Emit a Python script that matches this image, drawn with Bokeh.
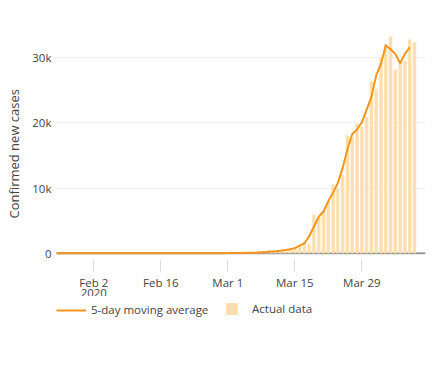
import pandas as pd
from bokeh.plotting import figure
from bokeh.models import (ColumnDataSource, FixedTicker, Span, Legend,
                          LegendItem, Range1d, Title, Label)
from bokeh.embed import file_html
from bokeh.resources import INLINE

# ---------------- data ----------------
start_date = "2020-01-22"

# daily confirmed new cases (bars), Jan 22 .. Apr 9
new_cases = [
    1, 0, 1, 0, 3, 0, 0, 0, 0, 1,
    1, 0, 3, 0, 0, 0, 0, 0, 0, 0, 1, 0, 1, 0, 0, 0, 0, 0, 0, 0, 2, 0, 0, 36, 0, 6, 1, 2, 8,
    6, 23, 20, 31, 68, 45, 140, 116, 65, 376, 322, 382, 516, 548, 772, 1133, 1789, 1362,
    5894, 5421, 6392, 7783, 10571, 9893, 12038, 18058, 17821, 19821, 19408, 20921, 26365,
    25200, 30081, 32133, 33264, 28222, 29595, 29556, 32829, 32385,
]

# 5-day moving average (line), Jan 22 .. Apr 8
avg_cases = [
    0, 0, 1, 1, 1, 1, 1, 0, 0, 0,
    1, 1, 1, 1, 1, 1, 0, 0, 0, 0, 0, 0, 0, 0, 0, 0, 0, 0, 0, 0, 0, 8, 8, 8, 9, 9, 9, 3, 4,
    30, 30, 38, 50, 60, 80, 100, 150, 200, 250, 300, 380, 480, 600, 780, 1150, 1500, 2600,
    4100, 5600, 6400, 8000, 9300, 10800, 13100, 16000, 18300, 19000, 20100, 22000, 24000,
    27300, 29100, 31900, 31300, 30600, 29200, 30600, 31600,
]

xtick_dates = ["2020-02-02", "2020-02-16", "2020-03-01", "2020-03-15", "2020-03-29"]
xtick_labels = ["Feb 2", "Feb 16", "Mar 1", "Mar 15", "Mar 29"]
year_label = "2020"
ytick_values = [0, 10000, 20000, 30000]
ytick_labels = ["0", "10k", "20k", "30k"]

line_label = "5-day moving average"
bar_label = "Actual data"
y_title = "Confirmed new cases"

# ---------------- styling ----------------
FONT = "Open Sans"
TEXT = "#444444"
LINE_COLOR = "#F7941E"
BAR_COLOR = "#FFDFB0"
DAY_MS = 86400000

dates = pd.date_range(start_date, periods=len(new_cases), freq="D")
avg_dates = dates[:len(avg_cases)]

bar_src = ColumnDataSource(dict(x=dates, top=new_cases))
line_src = ColumnDataSource(dict(x=avg_dates, y=avg_cases))


def ms(d):
    return int(pd.Timestamp(d).value // 10**6)


x_start = ms("2020-01-25 05:00")
x_end = ms("2020-04-11 07:12")

p = figure(width=440, height=360, x_axis_type="datetime",
           x_range=Range1d(x_start, x_end), y_range=Range1d(-12636, 35729),
           output_backend="svg", toolbar_location=None,
           min_border_left=54, min_border_right=15, min_border_top=20,
           min_border_bottom=25)
p.outline_line_color = None
p.background_fill_color = "white"
p.border_fill_color = "white"

zero = Span(location=0, dimension="width", line_color="#999999", line_width=2,
            level="underlay")
p.add_layout(zero)

bars = p.vbar(x="x", top="top", width=0.72 * DAY_MS, source=bar_src,
              fill_color=BAR_COLOR, line_color=None)
line = p.line(x="x", y="y", source=line_src, line_color=LINE_COLOR,
              line_width=2, line_join="round")

# x axis (drawn just below the zero line)
xa = p.xaxis[0]
xa.fixed_location = -967
xa.ticker = FixedTicker(ticks=[ms(d) for d in xtick_dates])
xa.major_label_overrides = {ms(d): lab for d, lab in zip(xtick_dates, xtick_labels)}
xa.axis_line_color = None
xa.major_tick_in = 0
xa.major_tick_out = 12
xa.major_tick_line_color = "#dddddd"
xa.minor_tick_line_color = None
xa.major_label_standoff = 3
xa.major_label_text_font = FONT
xa.major_label_text_font_size = "11.5px"
xa.major_label_text_color = TEXT
p.xgrid.grid_line_color = None

# year under the first date tick (mostly hidden by the legend, as in the original)
p.add_layout(Label(x=ms(xtick_dates[0]), y=47, x_units="data", y_units="screen",
                   text=year_label, text_align="center", text_baseline="top",
                   text_font=FONT, text_font_size="11.5px", text_color=TEXT))

# y axis
ya = p.yaxis[0]
ya.ticker = FixedTicker(ticks=ytick_values)
ya.major_label_overrides = {v: lab for v, lab in zip(ytick_values, ytick_labels)}
ya.axis_line_color = None
ya.major_tick_in = 0
ya.major_tick_out = 0
ya.minor_tick_line_color = None
ya.major_label_standoff = 5
ya.major_label_text_font = FONT
ya.major_label_text_font_size = "11.5px"
ya.major_label_text_color = TEXT
p.ygrid.grid_line_color = "#eeeeee"
p.ygrid.grid_line_width = 1

# y title
p.add_layout(Title(text=y_title, align="left", vertical_align="top", offset=117,
                   standoff=9, text_font=FONT, text_font_size="13px",
                   text_font_style="normal", text_color=TEXT), "left")

# legends
leg1 = Legend(items=[LegendItem(label=line_label, renderers=[line])],
              location=(0, 11.5), orientation="horizontal",
              glyph_width=30, glyph_height=28, label_height=28,
              label_standoff=5, padding=1, margin=0, spacing=0,
              border_line_color=None, background_fill_color="white",
              background_fill_alpha=1.0,
              label_text_font=FONT, label_text_font_size="11.5px",
              label_text_color=TEXT)
leg2 = Legend(items=[LegendItem(label=bar_label, renderers=[bars])],
              location=(168, 19), orientation="horizontal",
              glyph_width=15, glyph_height=15, label_height=15,
              label_standoff=13, padding=0, margin=0, spacing=0,
              border_line_color=None, background_fill_alpha=0.0,
              label_text_font=FONT, label_text_font_size="11.5px",
              label_text_color=TEXT)
p.add_layout(leg1)
p.add_layout(leg2)

open("out.html", "w").write(file_html(p, INLINE))
